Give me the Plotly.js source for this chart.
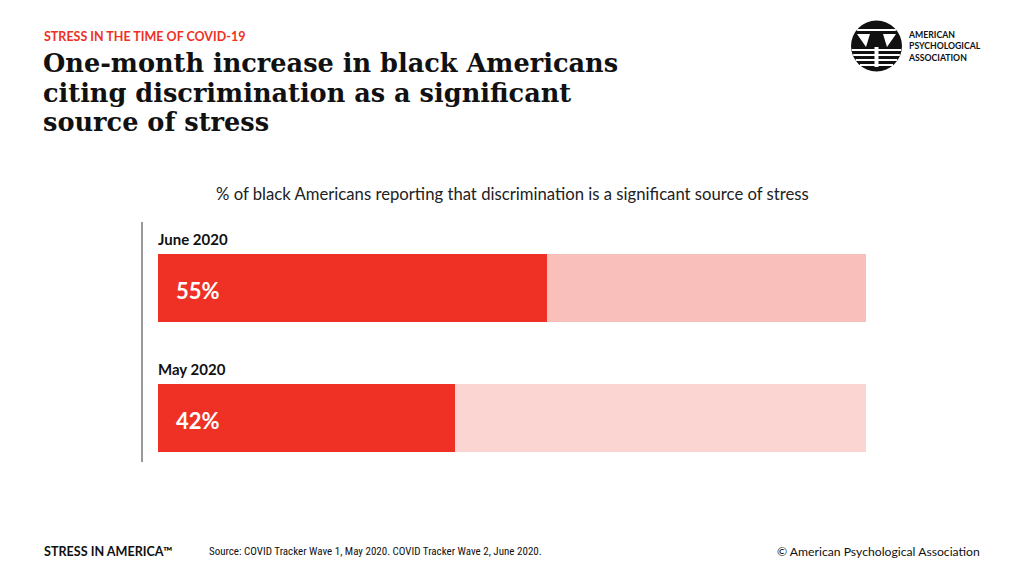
<!DOCTYPE html>
<html><head><meta charset="utf-8">
<script src="https://cdn.plot.ly/plotly-3.0.1.min.js"></script>
<style>html,body{margin:0;padding:0;background:#fff;}#chart{width:1024px;height:576px;}</style>
</head><body><div id="chart"></div>
<script>
const categories = ["May 2020", "June 2020"];
const values = [42, 55];
const totals = [100, 100];
const bgColors = ["#fbd5d2", "#f9c0bb"];

const traces = [
  {type:"bar", orientation:"h", y:[0,1], x:totals, width:0.523,
   marker:{color:bgColors}, hoverinfo:"skip", showlegend:false},
  {type:"bar", orientation:"h", y:[0,1], x:values, width:0.523,
   marker:{color:"#ee3124"}, hoverinfo:"skip", showlegend:false}
];

// pixel -> paper helpers (plot area: x 158..866, y 222..462)
const PX = x => (x-158)/708;
const PY = y => (462-y)/240;

const ann = [];
categories.forEach((c,i)=>{
  ann.push({xref:"x", yref:"y", x:0, y:i, text:"<b>"+values[i]+"%</b>", showarrow:false,
    xanchor:"left", yanchor:"middle", xshift:16, yshift:-2, font:{family:"Lato, sans-serif", size:22, color:"#fff"}});
  ann.push({xref:"x", yref:"y", x:0, y:i+0.29, text:"<b>"+c+"</b>", showarrow:false,
    xanchor:"left", yanchor:"bottom", xshift:-2, font:{family:"Lato, sans-serif", size:15, color:"#111"}});
});
ann.push({xref:"paper", yref:"paper", x:PX(42), y:PY(36), text:"<b>STRESS IN THE TIME OF COVID-19</b>",
  showarrow:false, xanchor:"left", yanchor:"middle", font:{family:"Lato, sans-serif", size:12.5, color:"#ee3124"}});
const titleLines = ["One-month increase in black Americans","citing discrimination as a significant","source of stress"];
titleLines.forEach((t,i)=>{
  ann.push({xref:"paper", yref:"paper", x:PX(41), y:PY(63+i*29.5), text:"<b>"+t+"</b>",
    showarrow:false, xanchor:"left", yanchor:"middle", font:{family:"DejaVu Serif, serif", size:25.6, color:"#111"}});
});
ann.push({xref:"paper", yref:"paper", x:PX(512), y:PY(194),
  text:"% of black Americans reporting that discrimination is a significant source of stress",
  showarrow:false, xanchor:"center", yanchor:"middle", font:{family:"Lato, sans-serif", size:16.7, color:"#222"}});
ann.push({xref:"paper", yref:"paper", x:PX(42), y:PY(551), text:"<b>STRESS IN AMERICA™</b>",
  showarrow:false, xanchor:"left", yanchor:"middle", font:{family:"Lato, sans-serif", size:12.6, color:"#111"}});
ann.push({xref:"paper", yref:"paper", x:PX(207), y:PY(551), text:"Source: COVID Tracker Wave 1, May 2020. COVID Tracker Wave 2, June 2020.",
  showarrow:false, xanchor:"left", yanchor:"middle", font:{family:"Liberation Sans Narrow, Roboto Condensed, sans-serif", size:11, color:"#111"}});
ann.push({xref:"paper", yref:"paper", x:PX(982), y:PY(551), text:"© American Psychological Association",
  showarrow:false, xanchor:"right", yanchor:"middle", font:{family:"Lato, sans-serif", size:12.2, color:"#111"}});
ann.push({xref:"paper", yref:"paper", x:PX(906), y:PY(46), text:"<b>AMERICAN<br>PSYCHOLOGICAL<br>ASSOCIATION</b>",
  showarrow:false, xanchor:"left", yanchor:"middle", align:"left", font:{family:"Lato, sans-serif", size:8.7, color:"#111"}});

const cx = 876.5, cy = 46, r = 25.5;
const shapes = [
  {type:"line", xref:"paper", yref:"paper", x0:PX(142), x1:PX(142), y0:0, y1:1, line:{color:"#777", width:1.5}},
  {type:"circle", xref:"paper", yref:"paper", x0:PX(cx-r), x1:PX(cx+r), y0:PY(cy+r), y1:PY(cy-r), fillcolor:"#111", line:{width:0}}
];
[30, 50, 55, 60, 65].forEach(yy=>{
  const dy = yy-cy; const half = Math.sqrt(Math.max(0,r*r-dy*dy)) - 0.5;
  shapes.push({type:"line", xref:"paper", yref:"paper", x0:PX(cx-half), x1:PX(cx+half),
    y0:PY(yy), y1:PY(yy), line:{color:"#fff", width:2.2}});
});
const path = pts => "M" + pts.map(p=>PX(p[0])+","+PY(p[1])).join(" L") + " Z";
shapes.push({type:"path", xref:"paper", yref:"paper", path:path([[857,34],[870,34],[866,47]]), fillcolor:"#fff", line:{width:0}});
shapes.push({type:"path", xref:"paper", yref:"paper", path:path([[883,34],[896,34],[887,47]]), fillcolor:"#fff", line:{width:0}});
shapes.push({type:"rect", xref:"paper", yref:"paper", x0:PX(874.5), x1:PX(878.5), y0:PY(67), y1:PY(47), fillcolor:"#fff", line:{width:0}});

const layout = {
  width:1024, height:576, margin:{l:158, r:158, t:222, b:114},
  paper_bgcolor:"#fff", plot_bgcolor:"#fff", barmode:"overlay", bargap:0,
  xaxis:{range:[0,100], visible:false, fixedrange:true},
  yaxis:{range:[-0.3385,1.5077], visible:false, fixedrange:true},
  annotations:ann, shapes:shapes, showlegend:false
};
Plotly.newPlot("chart", traces, layout, {staticPlot:true, displayModeBar:false});
</script></body></html>
